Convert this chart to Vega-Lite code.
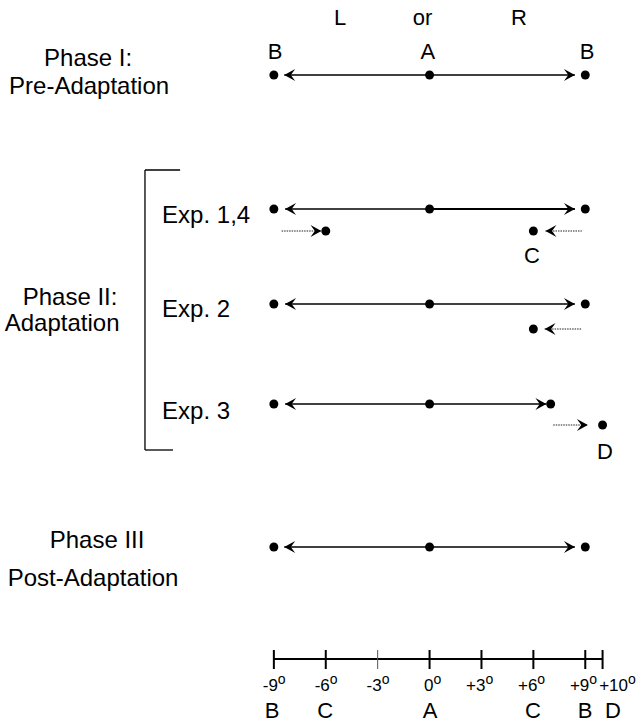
{
  "$schema": "https://vega.github.io/schema/vega-lite/v6.json",
  "autosize": {"type": "fit", "contains": "padding"},
  "width": 637,
  "height": 724,
  "padding": 0,
  "background": "white",
  "config": {"view": {"stroke": null}},
  "datasets": {
    "dots": [
      {"x": -9, "y": 75}, {"x": 0, "y": 75}, {"x": 9, "y": 75},
      {"x": -9, "y": 209}, {"x": 0, "y": 209}, {"x": 9, "y": 209},
      {"x": -6, "y": 231}, {"x": 6, "y": 231},
      {"x": -9, "y": 304}, {"x": 0, "y": 304}, {"x": 9, "y": 304},
      {"x": 6, "y": 329},
      {"x": -9, "y": 404}, {"x": 0, "y": 404}, {"x": 7, "y": 404},
      {"x": 10, "y": 425},
      {"x": -9, "y": 547}, {"x": 0, "y": 547}, {"x": 9, "y": 547}
    ],
    "solid": [
      {"x": -8.4, "x2": 0, "y": 75}, {"x": 0, "x2": 8.4, "y": 75},
      {"x": -8.35, "x2": 0, "y": 209},
      {"x": -8.35, "x2": 0, "y": 304}, {"x": 0, "x2": 8.4, "y": 304},
      {"x": -8.35, "x2": 0, "y": 404}, {"x": 0, "x2": 6.75, "y": 404},
      {"x": -8.4, "x2": 0, "y": 547}, {"x": 0, "x2": 8.4, "y": 547}
    ],
    "bold": [
      {"x": 0, "x2": 8.4, "y": 209}
    ],
    "dotted": [
      {"x": -8.55, "x2": -6.3, "y": 231}, {"x": 6.7, "x2": 8.8, "y": 231},
      {"x": 6.65, "x2": 8.8, "y": 329},
      {"x": 7.15, "x2": 9.1, "y": 425}
    ],
    "heads": [
      {"x": -8.4, "y": 75, "dir": "L"}, {"x": 8.4, "y": 75, "dir": "R"},
      {"x": -8.35, "y": 209, "dir": "L"}, {"x": 8.4, "y": 209, "dir": "R"},
      {"x": -6.25, "y": 231, "dir": "R"}, {"x": 6.7, "y": 231, "dir": "L"},
      {"x": -8.35, "y": 304, "dir": "L"}, {"x": 8.4, "y": 304, "dir": "R"},
      {"x": 6.65, "y": 329, "dir": "L"},
      {"x": -8.35, "y": 404, "dir": "L"}, {"x": 6.75, "y": 404, "dir": "R"},
      {"x": 9.15, "y": 425, "dir": "R"},
      {"x": -8.4, "y": 547, "dir": "L"}, {"x": 8.4, "y": 547, "dir": "R"}
    ],
    "axisline": [{"x": -9, "x2": 10, "y": 659}],
    "ticks": [
      {"x": -9, "y": 650, "y2": 669}, {"x": -6, "y": 650, "y2": 669},
      {"x": 0, "y": 650, "y2": 669}, {"x": 3, "y": 650, "y2": 669},
      {"x": 6, "y": 650, "y2": 669}, {"x": 9, "y": 650, "y2": 669},
      {"x": 10, "y": 650, "y2": 669}
    ],
    "thintick": [{"x": -3, "y": 650, "y2": 669}],
    "bracketV": [{"x": -16.45, "y": 170, "y2": 450}],
    "bracketH": [
      {"x": -16.45, "x2": -14.42, "y": 170},
      {"x": -16.45, "x2": -14.83, "y": 450}
    ],
    "letters": [
      {"x": -5.17, "y": 18, "t": "L"}, {"x": -0.4, "y": 18, "t": "or"}, {"x": 5.17, "y": 18, "t": "R"},
      {"x": -8.93, "y": 52, "t": "B"}, {"x": -0.1, "y": 52, "t": "A"}, {"x": 9.1, "y": 52, "t": "B"},
      {"x": 5.92, "y": 256, "t": "C"},
      {"x": 10.14, "y": 452, "t": "D"},
      {"x": -9.1, "y": 711, "t": "B"}, {"x": -6.04, "y": 711, "t": "C"}, {"x": 0.03, "y": 711, "t": "A"},
      {"x": 5.98, "y": 711, "t": "C"}, {"x": 8.99, "y": 711, "t": "B"}, {"x": 10.6, "y": 711, "t": "D"}
    ],
    "phases": [
      {"x": -19.74, "y": 59, "t": "Phase I:"},
      {"x": -19.68, "y": 87, "t": "Pre-Adaptation"},
      {"x": -20.78, "y": 298, "t": "Phase II:"},
      {"x": -21.24, "y": 324, "t": "Adaptation"},
      {"x": -19.22, "y": 541, "t": "Phase III"},
      {"x": -19.45, "y": 579, "t": "Post-Adaptation"}
    ],
    "exps": [
      {"x": -15.46, "y": 216, "t": "Exp. 1,4"},
      {"x": -15.46, "y": 310, "t": "Exp. 2"},
      {"x": -15.46, "y": 412, "t": "Exp. 3"}
    ],
    "degs": [
      {"x": -9, "y": 686, "t": "-9"}, {"x": -6, "y": 686, "t": "-6"},
      {"x": -3, "y": 686, "t": "-3"}, {"x": 0, "y": 686, "t": "0"},
      {"x": 3, "y": 686, "t": "+3"}, {"x": 6, "y": 686, "t": "+6"},
      {"x": 9, "y": 686, "t": "+9"}, {"x": 11.24, "y": 686, "t": "+10"}
    ]
  },
  "encoding": {
    "x": {"field": "x", "type": "quantitative", "scale": {"domain": [-24.83, 11.99], "nice": false, "zero": false}, "axis": null},
    "y": {"field": "y", "type": "quantitative", "scale": {"domain": [0, 724], "reverse": true, "nice": false, "zero": false}, "axis": null}
  },
  "layer": [
    {"data": {"name": "solid"}, "mark": {"type": "rule", "color": "black", "strokeWidth": 1.3}, "encoding": {"x2": {"field": "x2"}}},
    {"data": {"name": "bold"}, "mark": {"type": "rule", "color": "black", "strokeWidth": 2}, "encoding": {"x2": {"field": "x2"}}},
    {"data": {"name": "dotted"}, "mark": {"type": "rule", "color": "#222", "strokeWidth": 1.2, "strokeDash": [1.5, 1]}, "encoding": {"x2": {"field": "x2"}}},
    {"data": {"name": "heads"}, "mark": {"type": "point", "filled": true, "color": "black", "opacity": 1, "size": 120, "strokeWidth": 0},
      "encoding": {"shape": {"field": "dir", "type": "nominal", "legend": null,
        "scale": {"domain": ["L", "R"], "range": ["M0,0L2,-1.1L1.2,0L2,1.1Z", "M0,0L-2,-1.1L-1.2,0L-2,1.1Z"]}}}},
    {"data": {"name": "dots"}, "mark": {"type": "circle", "color": "black", "opacity": 1, "size": 80}},
    {"data": {"name": "axisline"}, "mark": {"type": "rule", "color": "black", "strokeWidth": 2}, "encoding": {"x2": {"field": "x2"}}},
    {"data": {"name": "ticks"}, "mark": {"type": "rule", "color": "black", "strokeWidth": 2}, "encoding": {"y2": {"field": "y2"}}},
    {"data": {"name": "thintick"}, "mark": {"type": "rule", "color": "#555", "strokeWidth": 1}, "encoding": {"y2": {"field": "y2"}}},
    {"data": {"name": "bracketV"}, "mark": {"type": "rule", "color": "black", "strokeWidth": 1.3}, "encoding": {"y2": {"field": "y2"}}},
    {"data": {"name": "bracketH"}, "mark": {"type": "rule", "color": "black", "strokeWidth": 1.3}, "encoding": {"x2": {"field": "x2"}}},
    {"data": {"name": "letters"}, "mark": {"type": "text", "font": "Liberation Sans", "fontSize": 22, "align": "center", "baseline": "middle", "color": "black"}, "encoding": {"text": {"field": "t"}}},
    {"data": {"name": "phases"}, "mark": {"type": "text", "font": "Liberation Sans", "fontSize": 24, "align": "center", "baseline": "middle", "color": "black"}, "encoding": {"text": {"field": "t"}}},
    {"data": {"name": "exps"}, "mark": {"type": "text", "font": "Liberation Sans", "fontSize": 24, "align": "left", "baseline": "middle", "color": "black"}, "encoding": {"text": {"field": "t"}}},
    {"data": {"name": "degs"}, "mark": {"type": "text", "font": "Liberation Sans", "fontSize": 17, "align": "right", "baseline": "middle", "dx": 4, "color": "black"}, "encoding": {"text": {"field": "t"}}},
    {"data": {"name": "degs"}, "mark": {"type": "text", "font": "Liberation Sans", "fontSize": 14, "align": "left", "baseline": "middle", "dx": 4, "dy": -6, "color": "black", "text": "o"}}
  ]
}
